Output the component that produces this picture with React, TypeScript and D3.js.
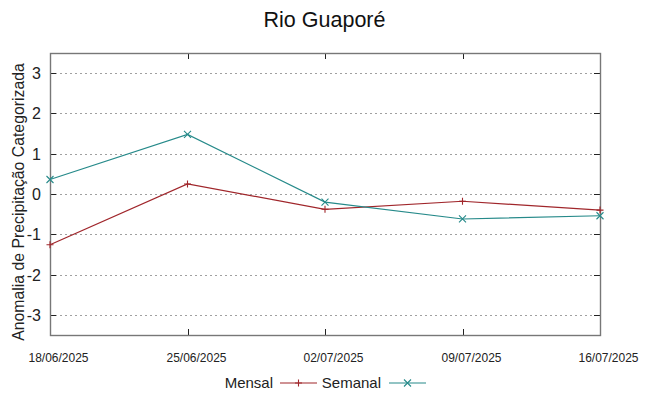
import { useEffect, useRef } from 'react';
import * as d3 from 'd3';

const dates = ['18/06/2025', '25/06/2025', '02/07/2025', '09/07/2025', '16/07/2025'];
const mensal = [-1.26, 0.25, -0.38, -0.18, -0.40];
const semanal = [0.36, 1.48, -0.20, -0.62, -0.54];
const yTicks = [-3, -2, -1, 0, 1, 2, 3];

const W = 649;
const H = 396;
const M = { top: 53, right: 49, bottom: 61, left: 50 };
const FONT = 'Liberation Sans, Arial, sans-serif';
const RED = '#a0262b';
const TEAL = '#268a8a';

export default function App() {
  const svgRef = useRef<SVGSVGElement>(null);

  useEffect(() => {
    const svg = d3.select(svgRef.current);
    svg.selectAll('*').remove();
    const innerW = W - M.left - M.right;
    const innerH = H - M.top - M.bottom;

    const x = d3.scalePoint<string>().domain(dates).range([0, innerW]);
    const y = d3.scaleLinear().domain([-3.5, 3.5]).range([innerH, 0]);

    svg.append('rect').attr('width', W).attr('height', H).attr('fill', '#fff');
    const g = svg.append('g').attr('transform', `translate(${M.left},${M.top})`);

    // grid
    yTicks.forEach(t => {
      g.append('line').attr('x1', 0).attr('x2', innerW)
        .attr('y1', Math.round(y(t)) + 0.5).attr('y2', Math.round(y(t)) + 0.5)
        .attr('stroke', '#a0a0a0').attr('stroke-width', 1).attr('stroke-dasharray', '2,3');
    });

    // tick marks (inward, mirrored)
    yTicks.forEach(t => {
      const yy = Math.round(y(t)) + 0.5;
      g.append('line').attr('x1', 0).attr('x2', 6).attr('y1', yy).attr('y2', yy).attr('stroke', '#222');
      g.append('line').attr('x1', innerW - 6).attr('x2', innerW).attr('y1', yy).attr('y2', yy).attr('stroke', '#222');
      g.append('text').attr('x', -9).attr('y', yy + 5.5).attr('text-anchor', 'end')
        .attr('font-family', FONT).attr('font-size', 16).attr('fill', '#222').text(t);
    });
    dates.forEach(d => {
      const xx = Math.round(x(d)!) + 0.5;
      g.append('line').attr('x1', xx).attr('x2', xx).attr('y1', innerH).attr('y2', innerH - 6).attr('stroke', '#222');
      g.append('line').attr('x1', xx).attr('x2', xx).attr('y1', 0).attr('y2', 6).attr('stroke', '#222');
      g.append('text').attr('x', xx + 8).attr('y', innerH + 27).attr('text-anchor', 'middle')
        .attr('font-family', FONT).attr('font-size', 13.5).attr('fill', '#222')
        .attr('textLength', 60).attr('lengthAdjust', 'spacingAndGlyphs').text(d);
    });

    // border
    g.append('rect').attr('x', 0.5).attr('y', 0.5).attr('width', innerW).attr('height', innerH)
      .attr('fill', 'none').attr('stroke', '#777').attr('stroke-width', 1.4);

    const line = d3.line<number>().x((_, i) => x(dates[i])!).y(v => y(v));

    const drawPlus = (sel: d3.Selection<SVGGElement, unknown, null, undefined>, cx: number, cy: number, color: string) => {
      sel.append('path').attr('d', `M${cx - 3.5},${cy}H${cx + 3.5}M${cx},${cy - 3.5}V${cy + 3.5}`)
        .attr('stroke', color).attr('stroke-width', 1.1).attr('fill', 'none');
    };
    const drawCross = (sel: d3.Selection<SVGGElement, unknown, null, undefined>, cx: number, cy: number, color: string) => {
      sel.append('path').attr('d', `M${cx - 3.5},${cy - 3.5}L${cx + 3.5},${cy + 3.5}M${cx - 3.5},${cy + 3.5}L${cx + 3.5},${cy - 3.5}`)
        .attr('stroke', color).attr('stroke-width', 1.1).attr('fill', 'none');
    };

    g.append('path').datum(mensal).attr('d', line).attr('fill', 'none').attr('stroke', RED).attr('stroke-width', 1.2);
    mensal.forEach((v, i) => drawPlus(g, x(dates[i])!, y(v), RED));
    g.append('path').datum(semanal).attr('d', line).attr('fill', 'none').attr('stroke', TEAL).attr('stroke-width', 1.2);
    semanal.forEach((v, i) => drawCross(g, x(dates[i])!, y(v), TEAL));

    // title
    svg.append('text').attr('x', W / 2).attr('y', 27).attr('text-anchor', 'middle')
      .attr('font-family', FONT).attr('font-size', 21.5).attr('fill', '#111').text('Rio Guaporé');

    // y label
    svg.append('text').attr('transform', `translate(24,202) rotate(-90)`)
      .attr('text-anchor', 'middle').attr('font-family', FONT).attr('font-size', 15.8).attr('fill', '#222')
      .text('Anomalia de Precipitação Categorizada');

    // legend
    const ly = 383;
    const leg = svg.append('g');
    leg.append('text').attr('x', 273).attr('y', ly + 5).attr('text-anchor', 'end')
      .attr('font-family', FONT).attr('font-size', 15).attr('fill', '#222').text('Mensal');
    leg.append('line').attr('x1', 280).attr('x2', 317).attr('y1', ly).attr('y2', ly).attr('stroke', RED).attr('stroke-width', 1.2);
    drawPlus(leg, 298.5, ly, RED);
    leg.append('text').attr('x', 381).attr('y', ly + 5).attr('text-anchor', 'end')
      .attr('font-family', FONT).attr('font-size', 15).attr('fill', '#222').text('Semanal');
    leg.append('line').attr('x1', 389).attr('x2', 426).attr('y1', ly).attr('y2', ly).attr('stroke', TEAL).attr('stroke-width', 1.2);
    drawCross(leg, 407.5, ly, TEAL);
  }, []);

  return (
    <div style={{ position: 'absolute', left: 0, top: 0 }}>
      <svg ref={svgRef} width={W} height={H} style={{ display: 'block' }} />
    </div>
  );
}
